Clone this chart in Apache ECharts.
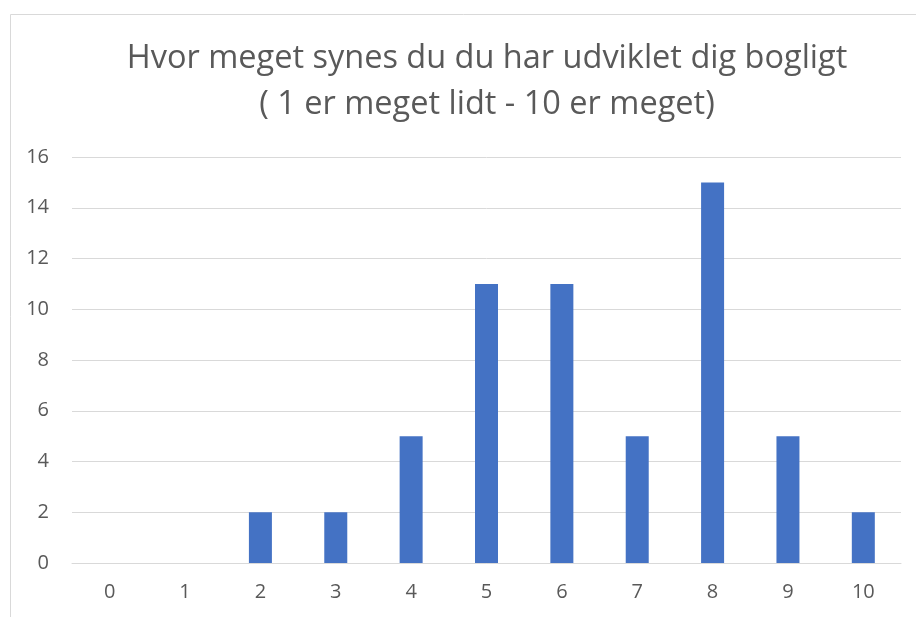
<!DOCTYPE html>
<html>
<head>
<meta charset="utf-8">
<script src="https://cdn.jsdelivr.net/npm/echarts@6/dist/echarts.min.js"></script>
<style>
  html, body { margin: 0; padding: 0; background: #fff; }
  #chart { width: 916px; height: 617px; }
</style>
</head>
<body>
<div id="chart"></div>
<script>
const categories = ['0', '1', '2', '3', '4', '5', '6', '7', '8', '9', '10']
const counts = [0, 0, 2, 2, 5, 11, 11, 5, 15, 5, 2]
const titleLines = ['Hvor meget synes du du har udviklet dig bogligt', '( 1 er meget lidt - 10 er meget)']

const textColor = '#595959'
const gridColor = '#d9d9d9'

const chart = echarts.init(document.getElementById('chart'), null, { renderer: 'canvas' })

chart.setOption({
  animation: false,
  textStyle: { fontFamily: 'Open Sans' },
  title: {
    text: titleLines.join('\n'),
    left: 482,
    top: 31,
    textAlign: 'center',
    textStyle: {
      color: textColor,
      fontSize: 32.5,
      fontWeight: 'normal',
      lineHeight: 46,
      fontFamily: 'Open Sans'
    }
  },
  graphic: [
    {
      type: 'rect',
      left: 8,
      top: 12,
      shape: { width: 940, height: 640 },
      style: { fill: null, stroke: gridColor, lineWidth: 1 },
      silent: true
    }
  ],
  grid: { left: 72, right: 15, top: 157, bottom: 54, containLabel: false },
  xAxis: {
    type: 'category',
    data: categories,
    axisLine: { show: true, lineStyle: { color: gridColor, width: 1 } },
    axisTick: { show: false },
    axisLabel: { color: textColor, fontSize: 20, margin: 19 }
  },
  yAxis: {
    type: 'value',
    min: 0,
    max: 16,
    interval: 2,
    axisLine: { show: false },
    axisTick: { show: false },
    axisLabel: { color: textColor, fontSize: 20, margin: 23 },
    splitLine: { lineStyle: { color: gridColor, width: 1 } }
  },
  series: [
    {
      type: 'bar',
      data: counts,
      barWidth: 23,
      itemStyle: { color: '#4472c4' }
    }
  ]
})
</script>
</body>
</html>
